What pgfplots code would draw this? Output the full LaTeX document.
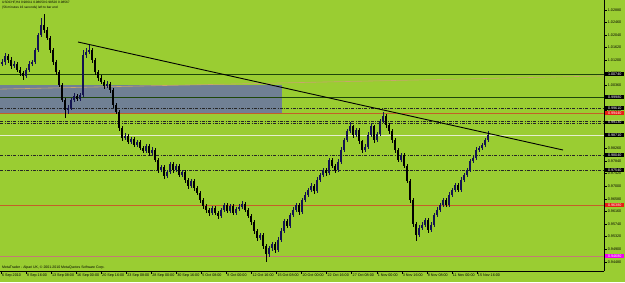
\documentclass[border=0pt]{standalone}
\usepackage{pgfplots}
\pgfplotsset{compat=1.18}
\usepackage{pgfplotstable}
\usepackage{fontspec}
\setmainfont{Liberation Sans}
\definecolor{bg}{RGB}{154,205,50}
\definecolor{rectc}{RGB}{112,128,148}
\definecolor{dkgreen}{RGB}{30,70,10}
\definecolor{orln}{RGB}{195,95,40}
\definecolor{pkln}{RGB}{195,125,115}
\definecolor{tanln}{RGB}{200,165,110}
\definecolor{bidln}{RGB}{228,238,205}
\definecolor{lblred}{RGB}{230,30,20}
\definecolor{lblmag}{RGB}{240,0,240}
\definecolor{bull}{RGB}{20,20,80}
\newcommand{\tickfont}{\fontsize{3.7}{4}\selectfont}
\tikzset{lbl/.style={anchor=west, inner sep=0.5pt, font=\tickfont, text=white, minimum width=19pt, align=left, xshift=1pt},
  dd/.style={black!85, line width=0.25pt, dash pattern=on 3pt off 1.5pt on 0.5pt off 1.5pt}}

\pgfplotstableread{
x o h l c
2 1.0108 1.0124 1.0100 1.0114
5 1.0114 1.0145 1.0106 1.0134
8 1.0134 1.0142 1.0112 1.0121
11 1.0121 1.0130 1.0092 1.0101
14 1.0101 1.0118 1.0094 1.0108
17 1.0108 1.0115 1.0080 1.0088
20 1.0088 1.0097 1.0068 1.0078
23 1.0078 1.0086 1.0055 1.0068
26 1.0068 1.0096 1.0061 1.0088
29 1.0088 1.0118 1.0082 1.0108
32 1.0108 1.0122 1.0100 1.0114
35 1.0114 1.0162 1.0108 1.0154
38 1.0154 1.0212 1.0148 1.0204
41 1.0204 1.0261 1.0196 1.0238
44 1.0238 1.0274 1.0212 1.0221
47 1.0221 1.0230 1.0186 1.0194
50 1.0194 1.0200 1.0146 1.0154
53 1.0154 1.0162 1.0105 1.0114
56 1.0114 1.0120 1.0072 1.0081
59 1.0081 1.0088 1.0030 1.0038
62 1.0038 1.0045 0.9980 0.9988
65 0.9988 0.9995 0.9928 0.9954
68 0.9954 0.9970 0.9940 0.9961
71 0.9961 0.9996 0.9955 0.9988
74 0.9988 1.0010 0.9982 1.0001
77 1.0001 1.0008 0.9984 0.9991
80 0.9991 1.0012 0.9985 1.0004
83 1.0004 1.0154 0.9998 1.0138
86 1.0138 1.0160 1.0128 1.0148
89 1.0148 1.0171 1.0140 1.0154
92 1.0154 1.0162 1.0112 1.0121
95 1.0121 1.0128 1.0072 1.0081
98 1.0081 1.0088 1.0052 1.0061
101 1.0061 1.0070 1.0040 1.0048
104 1.0048 1.0056 1.0025 1.0034
107 1.0034 1.0050 1.0028 1.0041
110 1.0041 1.0048 1.0012 1.0021
113 1.0021 1.0028 0.9962 0.9971
116 0.9971 0.9978 0.9940 0.9948
119 0.9948 0.9955 0.9885 0.9894
122 0.9894 0.9900 0.9852 0.9861
125 0.9861 0.9878 0.9853 0.9868
128 0.9868 0.9875 0.9840 0.9848
131 0.9848 0.9866 0.9842 0.9858
134 0.9858 0.9864 0.9830 0.9838
137 0.9838 0.9856 0.9832 0.9848
140 0.9848 0.9854 0.9820 0.9828
143 0.9828 0.9835 0.9810 0.9818
146 0.9818 0.9842 0.9812 0.9834
149 0.9834 0.9840 0.9802 0.9811
152 0.9811 0.9830 0.9805 0.9821
155 0.9821 0.9828 0.9780 0.9788
158 0.9788 0.9795 0.9745 0.9754
161 0.9754 0.9772 0.9748 0.9764
164 0.9764 0.9770 0.9725 0.9734
167 0.9734 0.9756 0.9728 0.9748
170 0.9748 0.9782 0.9742 0.9774
173 0.9774 0.9780 0.9746 0.9754
176 0.9754 0.9776 0.9748 0.9768
179 0.9768 0.9774 0.9730 0.9738
182 0.9738 0.9756 0.9732 0.9748
185 0.9748 0.9754 0.9712 0.9721
188 0.9721 0.9728 0.9692 0.9701
191 0.9701 0.9726 0.9695 0.9718
194 0.9718 0.9724 0.9686 0.9694
197 0.9694 0.9700 0.9670 0.9678
200 0.9678 0.9685 0.9646 0.9654
203 0.9654 0.9660 0.9625 0.9634
206 0.9634 0.9640 0.9612 0.9621
209 0.9621 0.9628 0.9602 0.9611
212 0.9611 0.9636 0.9605 0.9628
215 0.9628 0.9634 0.9603 0.9611
218 0.9611 0.9618 0.9590 0.9601
221 0.9601 0.9628 0.9596 0.9621
224 0.9621 0.9646 0.9615 0.9638
227 0.9638 0.9644 0.9610 0.9618
230 0.9618 0.9642 0.9612 0.9634
233 0.9634 0.9640 0.9604 0.9611
236 0.9611 0.9632 0.9606 0.9624
239 0.9624 0.9640 0.9618 0.9631
242 0.9631 0.9650 0.9625 0.9641
245 0.9641 0.9648 0.9614 0.9621
248 0.9621 0.9628 0.9594 0.9601
251 0.9601 0.9608 0.9572 0.9581
254 0.9581 0.9588 0.9542 0.9551
257 0.9551 0.9558 0.9518 0.9528
260 0.9528 0.9546 0.9520 0.9538
263 0.9538 0.9545 0.9490 0.9501
266 0.9501 0.9508 0.9448 0.9474
269 0.9474 0.9502 0.9466 0.9494
272 0.9494 0.9516 0.9486 0.9508
275 0.9508 0.9515 0.9478 0.9488
278 0.9488 0.9530 0.9482 0.9521
281 0.9521 0.9560 0.9515 0.9551
284 0.9551 0.9592 0.9545 0.9584
287 0.9584 0.9590 0.9560 0.9568
290 0.9568 0.9612 0.9562 0.9604
293 0.9604 0.9630 0.9598 0.9621
296 0.9621 0.9646 0.9615 0.9638
299 0.9638 0.9645 0.9606 0.9614
302 0.9614 0.9662 0.9608 0.9654
305 0.9654 0.9680 0.9648 0.9671
308 0.9671 0.9696 0.9665 0.9688
311 0.9688 0.9710 0.9682 0.9701
314 0.9701 0.9708 0.9676 0.9684
317 0.9684 0.9730 0.9678 0.9721
320 0.9721 0.9746 0.9715 0.9738
323 0.9738 0.9762 0.9732 0.9754
326 0.9754 0.9760 0.9736 0.9744
329 0.9744 0.9796 0.9738 0.9788
332 0.9788 0.9794 0.9760 0.9768
335 0.9768 0.9774 0.9746 0.9754
338 0.9754 0.9790 0.9748 0.9781
341 0.9781 0.9830 0.9775 0.9821
344 0.9821 0.9862 0.9815 0.9854
347 0.9854 0.9892 0.9848 0.9884
350 0.9884 0.9914 0.9878 0.9901
353 0.9901 0.9906 0.9862 0.9871
356 0.9871 0.9896 0.9865 0.9888
359 0.9888 0.9894 0.9842 0.9851
362 0.9851 0.9856 0.9812 0.9821
365 0.9821 0.9840 0.9815 0.9831
368 0.9831 0.9880 0.9825 0.9871
371 0.9871 0.9910 0.9865 0.9901
374 0.9901 0.9906 0.9846 0.9854
377 0.9854 0.9882 0.9848 0.9874
380 0.9874 0.9926 0.9868 0.9918
383 0.9918 0.9948 0.9912 0.9934
386 0.9934 0.9940 0.9896 0.9904
389 0.9904 0.9910 0.9876 0.9884
392 0.9884 0.9890 0.9846 0.9854
395 0.9854 0.9860 0.9812 0.9821
398 0.9821 0.9828 0.9780 0.9788
401 0.9788 0.9812 0.9782 0.9804
404 0.9804 0.9810 0.9760 0.9768
407 0.9768 0.9775 0.9710 0.9718
410 0.9718 0.9725 0.9645 0.9654
413 0.9654 0.9660 0.9565 0.9574
416 0.9574 0.9580 0.9518 0.9538
419 0.9538 0.9570 0.9530 0.9561
422 0.9561 0.9580 0.9555 0.9571
425 0.9571 0.9596 0.9565 0.9588
428 0.9588 0.9594 0.9546 0.9554
431 0.9554 0.9580 0.9548 0.9571
434 0.9571 0.9612 0.9565 0.9604
437 0.9604 0.9630 0.9598 0.9621
440 0.9621 0.9646 0.9615 0.9638
443 0.9638 0.9662 0.9632 0.9654
446 0.9654 0.9660 0.9630 0.9638
449 0.9638 0.9680 0.9632 0.9671
452 0.9671 0.9696 0.9665 0.9688
455 0.9688 0.9712 0.9682 0.9704
458 0.9704 0.9710 0.9680 0.9688
461 0.9688 0.9730 0.9682 0.9721
464 0.9721 0.9746 0.9715 0.9738
467 0.9738 0.9762 0.9732 0.9754
470 0.9754 0.9792 0.9748 0.9784
473 0.9784 0.9802 0.9778 0.9794
476 0.9794 0.9830 0.9788 0.9821
479 0.9821 0.9836 0.9815 0.9828
482 0.9828 0.9846 0.9822 0.9838
485 0.9838 0.9862 0.9832 0.9854
488 0.9854 0.9884 0.9848 0.9871
}\candles

\begin{document}
\begin{tikzpicture}[x=1pt,y=1pt]
\useasboundingbox (0,0) rectangle (625,282);
\fill[bg] (0,0) rectangle (625,282);
\begin{axis}[
  at={(0pt,11pt)}, anchor=south west,
  scale only axis, width=604pt, height=271pt,
  xmin=0, xmax=604, ymin=0.941767, ymax=1.0321,
  axis x line*=bottom, axis y line*=right,
  axis line style={-, black, line width=0.7pt},
  x axis line style={-}, y axis line style={-},
  clip=false,
  tick align=outside, major tick length=2.5pt,
  tick style={black, line width=0.5pt},
  xtick={1,26.05,51.1,76.15,101.2,126.25,151.3,176.35,201.4,226.45,251.5,276.55,301.6,326.65,351.7,376.75,401.8,426.85,451.9,476.95},
  xticklabels={6 Sep 2010,8 Sep 16:00,13 Sep 08:00,16 Sep 00:00,20 Sep 16:00,23 Sep 08:00,28 Sep 00:00,30 Sep 16:00,5 Oct 08:00,8 Oct 00:00,12 Oct 16:00,15 Oct 08:00,20 Oct 00:00,22 Oct 16:00,27 Oct 08:00,1 Nov 00:00,3 Nov 16:00,8 Nov 08:00,11 Nov 00:00,15 Nov 16:00},
  xticklabel style={font=\tickfont, anchor=north west, inner sep=0pt, xshift=0.8pt, yshift=-0.3pt},
  ytick={1.0288,1.0246,1.0204,1.0162,1.0120,1.0078,1.0036,0.9994,0.9952,0.9910,0.9868,0.9826,0.9784,0.9742,0.9700,0.9658,0.9616,0.9574,0.9532,0.9490,0.9448},
  yticklabel={\pgfmathprintnumber[fixed,fixed zerofill,precision=5,assume math mode=true]{\tick}},
  yticklabel style={font=\tickfont, anchor=west, inner sep=0pt, xshift=1.2pt},
]
% rectangle zone
\addplot[fill=rectc, draw=none, forget plot] coordinates {(0,1.0038) (282,1.0038) (282,0.9944) (0,0.9944)} -- cycle;
% horizontal levels
\addplot[dkgreen, line width=0.55pt, forget plot] coordinates {(0,1.0074) (604,1.0074)};
\addplot[dkgreen, line width=0.55pt, forget plot] coordinates {(0,0.9998) (604,0.9998)};
\addplot[dd, forget plot] coordinates {(0,0.9961) (604,0.9961)};
\addplot[orln, line width=0.8pt, forget plot] coordinates {(0,0.9944) (604,0.9944)};
\addplot[dd, forget plot] coordinates {(0,0.9918) (604,0.9918)};
\addplot[dd, forget plot] coordinates {(0,0.9909) (604,0.9909)};
\addplot[bidln, line width=0.6pt, forget plot] coordinates {(0,0.9871) (604,0.9871)};
\addplot[dd, forget plot] coordinates {(0,0.9804) (604,0.9804)};
\addplot[dd, forget plot] coordinates {(0,0.9754) (604,0.9754)};
\addplot[orln, line width=0.8pt, forget plot] coordinates {(0,0.9638) (604,0.9638)};
\addplot[pkln, line width=0.8pt, forget plot] coordinates {(0,0.9468) (604,0.9468)};
% sloped thin line
\addplot[tanln, line width=0.6pt, forget plot] coordinates {(0,1.0024) (604,1.0068)};
% bear candles
\addplot[draw=none, mark=none, forget plot,
  x filter/.expression={\thisrow{c}<\thisrow{o} ? x : nan},
  error bars/.cd, y dir=both, y explicit, error mark=none,
  error bar style={draw=black, solid, line width=0.6pt}]
  table[x=x, y=c, y error plus expr=\thisrow{h}-\thisrow{c}, y error minus expr=\thisrow{c}-\thisrow{l}] {\candles};
\addplot[draw=none, mark=none, forget plot,
  x filter/.expression={\thisrow{c}<\thisrow{o} ? x : nan},
  error bars/.cd, y dir=both, y explicit, error mark=none,
  error bar style={draw=black, solid, line width=1.9pt}]
  table[x=x, y expr=(\thisrow{o}+\thisrow{c})/2, y error expr=abs(\thisrow{c}-\thisrow{o})/2] {\candles};
% bull candles
\addplot[draw=none, mark=none, forget plot,
  x filter/.expression={\thisrow{c}<\thisrow{o} ? nan : x},
  error bars/.cd, y dir=both, y explicit, error mark=none,
  error bar style={draw=bull, solid, line width=0.6pt}]
  table[x=x, y=c, y error plus expr=\thisrow{h}-\thisrow{c}, y error minus expr=\thisrow{c}-\thisrow{l}] {\candles};
\addplot[draw=none, mark=none, forget plot,
  x filter/.expression={\thisrow{c}<\thisrow{o} ? nan : x},
  error bars/.cd, y dir=both, y explicit, error mark=none,
  error bar style={draw=bull, solid, line width=1.9pt}]
  table[x=x, y expr=(\thisrow{o}+\thisrow{c})/2, y error expr=abs(\thisrow{c}-\thisrow{o})/2] {\candles};
% trend line
\addplot[black, line width=0.9pt, forget plot] coordinates {(78,1.0181) (563,0.9821)};
% right-hand level labels
\node[lbl, fill=black] at (axis cs:604,1.0074) {1.00740};
\node[lbl, fill=black] at (axis cs:604,0.9998) {0.99980};
\node[lbl, fill=black] at (axis cs:604,0.9961) {0.99610};
\node[lbl, fill=lblred] at (axis cs:604,0.9944) {0.99440};
\node[lbl, fill=black] at (axis cs:604,0.9913) {0.99130};
\node[lbl, fill=black] at (axis cs:604,0.9871) {0.98710};
\node[lbl, fill=black] at (axis cs:604,0.9804) {0.98040};
\node[lbl, fill=black] at (axis cs:604,0.9754) {0.97540};
\node[lbl, fill=lblred] at (axis cs:604,0.9638) {0.96380};
\node[lbl, fill=lblmag] at (axis cs:604,0.9468) {0.94680};
\end{axis}
\node[anchor=north west, inner sep=0pt, align=left, font=\fontsize{3.2}{4.6}\selectfont] at (2,280.5)
  {USDCHF,H4 0.98611 0.98650 0.98520 0.98567\\(56 minutes 16 seconds) left to bar end};
\node[anchor=south west, inner sep=0pt, font=\fontsize{3.5}{4}\selectfont] at (2,12.5)
  {MetaTrader - Alpari UK, © 2001-2010 MetaQuotes Software Corp.};
\end{tikzpicture}
\end{document}
